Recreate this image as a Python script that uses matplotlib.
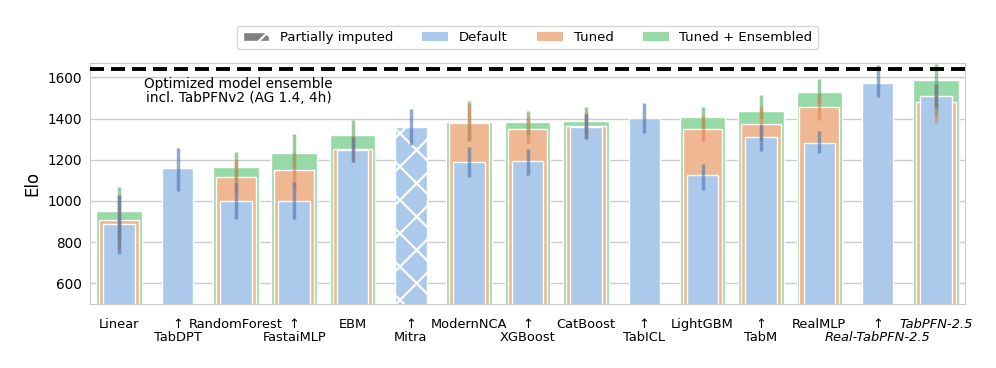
import colorsys
import numpy as np
import matplotlib
matplotlib.use('Agg')
from matplotlib import pyplot as plt
from matplotlib.patches import Patch
from matplotlib.colors import to_rgb

models = ['Linear', 'TabDPT', 'RandomForest', 'FastaiMLP', 'EBM', 'Mitra',
          'ModernNCA', 'XGBoost', 'CatBoost', 'TabICL', 'LightGBM', 'TabM',
          'RealMLP', 'Real-TabPFN-2.5', 'TabPFN-2.5']
arrow = [False, True, False, True, False, True, False, True, False, True,
         False, True, False, True, False]
italic = ['Real-TabPFN-2.5', 'TabPFN-2.5']
imputed = ['Mitra']

nan = np.nan
default = [889, 1160, 999, 1000, 1248, 1358, 1190, 1195, 1358, 1404, 1126, 1309, 1280, 1572, 1510]
default_lo = [741, 1048, 911, 911, 1187, 1272, 1117, 1126, 1299, 1328, 1053, 1242, 1234, 1506, 1450]
default_hi = [1030, 1255, 1085, 1090, 1310, 1447, 1260, 1252, 1420, 1474, 1179, 1370, 1338, 1661, 1570]

tuned = [910, nan, 1117, 1150, 1250, nan, 1380, 1348, 1364, nan, 1351, 1372, 1455, nan, 1479]
tuned_lo = [760, nan, 1040, 1062, 1187, nan, 1290, 1283, 1299, nan, 1292, 1296, 1393, nan, 1380]
tuned_hi = [1030, nan, 1200, 1235, 1320, nan, 1470, 1410, 1430, nan, 1410, 1455, 1520, nan, 1570]

ens = [952, nan, 1163, 1231, 1322, nan, 1382, 1385, 1388, nan, 1408, 1435, 1529, nan, 1588]
ens_lo = [820, nan, 1080, 1158, 1263, nan, 1292, 1320, 1328, nan, 1353, 1401, 1474, nan, 1410]
ens_hi = [1066, nan, 1237, 1325, 1393, nan, 1487, 1437, 1455, nan, 1455, 1515, 1593, nan, 1666]

portfolio_elo = 1639


def desat(c, s=0.75):
    h, l, sat = colorsys.rgb_to_hls(*to_rgb(c))
    return colorsys.hls_to_rgb(h, l, sat * s)


plt.rcParams['hatch.linewidth'] = 1.6
plt.rcParams['hatch.color'] = 'white'

fig = plt.figure(figsize=(9.96, 3.68), dpi=100)
ax = fig.add_axes([0.0904, 0.174, 0.8786, 0.655])

x = np.arange(len(models))
pastel = {'default': desat('#a1c9f4'), 'tuned': desat('#ffb482'), 'ens': desat('#8de5a1')}
deep = {'default': '#4c72b0', 'tuned': '#dd8452', 'ens': '#55a868'}

ax.bar(x, ens, width=0.78, color=pastel['ens'], edgecolor='white', linewidth=1, zorder=2)
ax.bar(x, tuned, width=0.68, color=pastel['tuned'], edgecolor='white', linewidth=1, zorder=3)
hatches = ['x' if m in imputed else '' for m in models]
ax.bar(x, default, width=0.54, color=pastel['default'], edgecolor='white', linewidth=1,
       hatch=hatches, zorder=4)

for vals, lo, hi, key in [(ens, ens_lo, ens_hi, 'ens'), (tuned, tuned_lo, tuned_hi, 'tuned'),
                          (default, default_lo, default_hi, 'default')]:
    v = np.array(vals, dtype=float)
    err = [v - np.array(lo, dtype=float), np.array(hi, dtype=float) - v]
    ax.errorbar(x, v, yerr=err, fmt='none', ecolor=deep[key], elinewidth=2.5,
                alpha=0.6, capsize=0, zorder=5)

ax.axhline(portfolio_elo, color='black', linestyle='--', linewidth=2.8, dashes=(3.6, 1.8), zorder=6)
ax.text(2.05, 1604, 'Optimized model ensemble\nincl. TabPFNv2 (AG 1.4, 4h)',
        ha='center', va='top', fontsize=9.8, linespacing=1.05, zorder=7)

ax.set_xlim(-0.5, len(models) - 0.5)
ax.set_ylim(500, 1670)
ax.set_yticks([600, 800, 1000, 1200, 1400, 1600])
ax.set_ylabel('Elo', fontsize=12)
ax.grid(axis='y', color='#cccccc', linewidth=1, zorder=0)
ax.set_axisbelow(True)
for s in ax.spines.values():
    s.set_color('#cccccc')
ax.tick_params(axis='y', length=0, labelsize=9.8, pad=6)
ax.tick_params(axis='x', length=0, labelsize=9.4, pad=10)

labels = [('↑\n' + m) if a else m for m, a in zip(models, arrow)]
ax.set_xticks(x)
ax.set_xticklabels(labels, va='top', linespacing=1.0)
for t, m in zip(ax.get_xticklabels(), models):
    if m in italic:
        t.set_style('italic')

handles = [Patch(facecolor='#808080', edgecolor='white', hatch='x', label='Partially imputed'),
           Patch(facecolor=pastel['default'], label='Default'),
           Patch(facecolor=pastel['tuned'], label='Tuned'),
           Patch(facecolor=pastel['ens'], label='Tuned + Ensembled')]
ax.legend(handles=handles, loc='lower center', bbox_to_anchor=(0.5, 1.03), ncol=4,
          fontsize=9.5, frameon=True, edgecolor='#cccccc', columnspacing=2.2)

fig.savefig('out.png', dpi=100)
